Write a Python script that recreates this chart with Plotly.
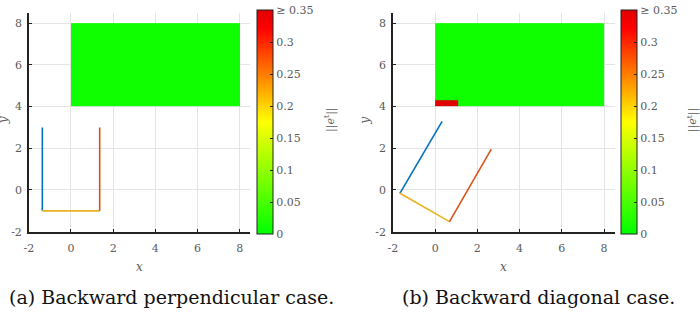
import plotly.graph_objects as go

W, H = 700, 312

# ---- data ----
axis_ticks = [-2, 0, 2, 4, 6, 8]
axis_ticktext = ["-2", "0", "2", "4", "6", "8"]
cb_ticks = [0, 0.05, 0.1, 0.15, 0.2, 0.25, 0.3, 0.35]
cb_ticktext = ["0", "0.05", "0.1", "0.15", "0.2", "0.25", "0.3", "\u2265 0.35"]

# error map cells (edges) and values
map_x_edges = [0, 1.1, 8]
map_y_edges = [4, 4.3, 8]
err_a = [[0.01, 0.01], [0.01, 0.01]]
err_b = [[0.40, 0.01], [0.01, 0.01]]

# vehicle-like segments (a) perpendicular
a_blue_x, a_blue_y = [-1.36, -1.36], [3.0, -1.0]
a_yel_x, a_yel_y = [-1.36, 1.36], [-1.0, -1.0]
a_org_x, a_org_y = [1.36, 1.36], [-1.0, 3.0]
# (b) diagonal
b_blue_x, b_blue_y = [-1.67, 0.33], [-0.16, 3.29]
b_yel_x, b_yel_y = [-1.67, 0.68], [-0.16, -1.52]
b_org_x, b_org_y = [0.68, 2.66], [-1.52, 1.96]

captions = ["(a) Backward perpendicular case.", "(b) Backward diagonal case."]

# ---- styling ----
SERIF = "DejaVu Serif"
GRAY = "#5a5a5a"
BLUE, ORANGE, YELLOW = "#0072BD", "#D95319", "#EDB120"
cscale = [[0, "#00ff00"], [0.5, "#ffff00"], [0.92, "#ff0000"], [1, "#e00000"]]

def px(x):
    return x / W

def py(y):
    return 1 - y / H

panels = [
    dict(x0=24, x1=247, cbx=254, err=err_a,
         segs=[(a_blue_x, a_blue_y, BLUE), (a_yel_x, a_yel_y, YELLOW), (a_org_x, a_org_y, ORANGE)],
         ylab_x=-2, cbt_x=328, cap_x=168, cap=captions[0]),
    dict(x0=390.7, x1=614, cbx=620.7, err=err_b,
         segs=[(b_blue_x, b_blue_y, BLUE), (b_yel_x, b_yel_y, YELLOW), (b_org_x, b_org_y, ORANGE)],
         ylab_x=363, cbt_x=693, cap_x=537, cap=captions[1]),
]
Y0, Y1 = 13, 237

fig = go.Figure()
annotations = []
for i, p in enumerate(panels):
    xa = "x" if i == 0 else "x2"
    ya = "y" if i == 0 else "y2"
    fig.add_trace(go.Heatmap(
        x=map_x_edges, y=map_y_edges, z=p["err"], xaxis=xa, yaxis=ya,
        colorscale=cscale, zmin=0, zmax=0.35, zsmooth=False, hoverinfo="skip",
        colorbar=dict(
            x=px(p["cbx"]), xanchor="left", y=py((Y0 + Y1) / 2), yanchor="middle",
            len=Y1 - Y0, lenmode="pixels", thickness=15.5, thicknessmode="pixels",
            outlinecolor="#222", outlinewidth=1, xpad=0, ypad=0,
            tickvals=cb_ticks, ticktext=cb_ticktext, ticks="inside", ticklen=3,
            tickcolor="#222", tickwidth=1,
            tickfont=dict(family=SERIF, size=11, color=GRAY),
        ),
    ))
    for sx, sy, col in p["segs"]:
        fig.add_trace(go.Scatter(x=sx, y=sy, mode="lines", xaxis=xa, yaxis=ya,
                                 line=dict(color=col, width=1.6), showlegend=False,
                                 hoverinfo="skip"))
    axcommon = dict(range=[-2, 8.5], tickvals=axis_ticks, ticktext=axis_ticktext,
                    showgrid=True, gridcolor="#e4e4e4", gridwidth=1, zeroline=False,
                    showline=True, linecolor="#222", linewidth=1.5, ticks="inside",
                    ticklen=3, tickcolor="#222",
                    tickfont=dict(family=SERIF, size=11, color=GRAY))
    xkey = "xaxis" if i == 0 else "xaxis2"
    ykey = "yaxis" if i == 0 else "yaxis2"
    fig.update_layout({
        xkey: dict(axcommon, domain=[px(p["x0"]), px(p["x1"])], anchor=ya, ticklabelstandoff=5),
        ykey: dict(axcommon, domain=[py(Y1), py(Y0)], anchor=xa, ticklabelstandoff=3),
    })
    cx = (p["x0"] + p["x1"]) / 2
    annotations += [
        dict(x=px(cx), y=py(273), xref="paper", yref="paper", text="<i>x</i>",
             showarrow=False, font=dict(family=SERIF, size=12, color=GRAY),
             xanchor="center", yanchor="middle"),
        dict(x=px(p["ylab_x"]), y=py(123), xref="paper", yref="paper", text="<i>y</i>",
             showarrow=False, textangle=-90, font=dict(family=SERIF, size=12, color=GRAY),
             xanchor="center", yanchor="middle"),
        dict(x=px(p["cbt_x"]), y=py(123), xref="paper", yref="paper",
             text="||<i>e</i><sup>t</sup>||", showarrow=False, textangle=-90,
             font=dict(family=SERIF, size=11, color=GRAY), xanchor="center", yanchor="middle"),
        dict(x=px(p["cap_x"]), y=py(304), xref="paper", yref="paper", text=p["cap"],
             showarrow=False, font=dict(family=SERIF, size=19, color="#111"),
             xanchor="center", yanchor="middle"),
    ]

fig.update_layout(width=W, height=H, margin=dict(l=0, r=0, t=0, b=0),
                  paper_bgcolor="white", plot_bgcolor="white", showlegend=False,
                  annotations=annotations)
fig.write_html("out.html")
